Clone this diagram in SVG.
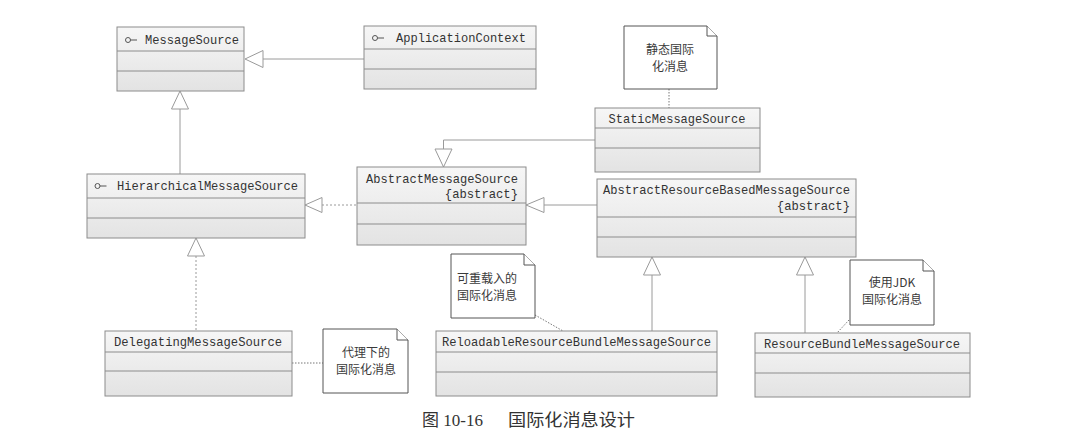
<svg xmlns="http://www.w3.org/2000/svg" width="1065" height="439" viewBox="0 0 1065 439">
<style>
.box{fill:url(#g);stroke:#8c8c8c;stroke-width:1}
.div{stroke:#8c8c8c;stroke-width:1}
.cls{font-family:"Liberation Mono","DejaVu Sans Mono",monospace;font-size:12.2px;fill:#333}
.note{fill:#fff;stroke:#555;stroke-width:1}
.nt{font-family:"Noto Sans CJK SC","Noto Sans",sans-serif;font-size:12px;fill:#3a3a3a}
.ln{fill:none;stroke:#9a9a9a;stroke-width:1}
.dl{fill:none;stroke:#9a9a9a;stroke-width:1;stroke-dasharray:2,2}
.nl{fill:none;stroke:#777;stroke-width:1;stroke-dasharray:1.5,1.5}
.tri{fill:#fff;stroke:#9a9a9a;stroke-width:1}
.ic{fill:none;stroke:#555;stroke-width:1}
.cap{font-family:"Liberation Serif","Noto Sans CJK SC",serif;font-size:17px;fill:#333}
</style>
<defs>
<linearGradient id="g" x1="0" y1="0" x2="0" y2="1">
<stop offset="0" stop-color="#f6f6f6"/>
<stop offset="1" stop-color="#e3e3e3"/>
</linearGradient>
</defs>
<rect width="1065" height="439" fill="#fff"/>

<g id="connectors">
<line class="ln" x1="263" y1="59" x2="364" y2="59"/>
<polygon class="tri" points="245,59 263,50.5 263,67.5"/>
<line class="ln" x1="180" y1="109" x2="180" y2="174"/>
<polygon class="tri" points="180,91 171.5,109 188.5,109"/>
<line class="dl" x1="322" y1="205" x2="357" y2="205"/>
<polygon class="tri" points="305,205 322,197.5 322,212.5"/>
<line class="dl" x1="196" y1="256" x2="196" y2="331"/>
<polygon class="tri" points="196,238 187.5,256 204.5,256"/>
<polyline class="ln" points="595,140 443.5,140 443.5,149"/>
<polygon class="tri" points="443.5,167 435,149 452,149"/>
<line class="ln" x1="544" y1="205" x2="597" y2="205"/>
<polygon class="tri" points="526,205 544,197.5 544,212.5"/>
<line class="ln" x1="652" y1="275" x2="652" y2="331"/>
<polygon class="tri" points="652,257 643.5,275 660.5,275"/>
<line class="ln" x1="805" y1="275" x2="805" y2="333"/>
<polygon class="tri" points="805,257 796.5,275 813.5,275"/>
<line class="nl" x1="669" y1="89" x2="669" y2="108"/>
<line class="nl" x1="292" y1="363" x2="323" y2="363"/>
<line class="nl" x1="535" y1="315" x2="563" y2="331"/>
<line class="nl" x1="849" y1="320" x2="837" y2="333"/>
</g>

<g id="MessageSource">
<rect class="box" x="117" y="27" width="127" height="64"/>
<line class="div" x1="117" y1="51" x2="244" y2="51"/>
<line class="div" x1="117" y1="71" x2="244" y2="71"/>
<circle class="ic" cx="128" cy="40" r="2.5"/>
<line class="ic" x1="130.5" y1="40" x2="137" y2="40"/>
<text class="cls" x="145" y="43.5" textLength="94" lengthAdjust="spacingAndGlyphs">MessageSource</text>
</g>

<g id="ApplicationContext">
<rect class="box" x="364" y="26" width="172" height="63"/>
<line class="div" x1="364" y1="49" x2="536" y2="49"/>
<line class="div" x1="364" y1="69" x2="536" y2="69"/>
<circle class="ic" cx="375" cy="38" r="2.5"/>
<line class="ic" x1="377.5" y1="38" x2="384" y2="38"/>
<text class="cls" x="396" y="42" textLength="130" lengthAdjust="spacingAndGlyphs">ApplicationContext</text>
</g>

<g id="HierarchicalMessageSource">
<rect class="box" x="87" y="174" width="218" height="64"/>
<line class="div" x1="87" y1="198" x2="305" y2="198"/>
<line class="div" x1="87" y1="218" x2="305" y2="218"/>
<circle class="ic" cx="97.5" cy="186" r="2.5"/>
<line class="ic" x1="100" y1="186" x2="106.5" y2="186"/>
<text class="cls" x="117" y="189.5" textLength="181" lengthAdjust="spacingAndGlyphs">HierarchicalMessageSource</text>
</g>

<g id="AbstractMessageSource">
<rect class="box" x="357" y="167" width="169" height="78"/>
<line class="div" x1="357" y1="203" x2="526" y2="203"/>
<line class="div" x1="357" y1="224" x2="526" y2="224"/>
<text class="cls" x="366" y="182.5" textLength="152" lengthAdjust="spacingAndGlyphs">AbstractMessageSource</text>
<text class="cls" x="518" y="197.5" text-anchor="end">{abstract}</text>
</g>

<g id="StaticMessageSource">
<rect class="box" x="595" y="108" width="165" height="64"/>
<line class="div" x1="595" y1="128" x2="760" y2="128"/>
<line class="div" x1="595" y1="148" x2="760" y2="148"/>
<text class="cls" x="608.5" y="122.5" textLength="137" lengthAdjust="spacingAndGlyphs">StaticMessageSource</text>
</g>

<g id="AbstractResourceBasedMessageSource">
<rect class="box" x="597" y="179" width="259" height="78"/>
<line class="div" x1="597" y1="217" x2="856" y2="217"/>
<line class="div" x1="597" y1="237" x2="856" y2="237"/>
<text class="cls" x="603" y="194" textLength="247" lengthAdjust="spacingAndGlyphs">AbstractResourceBasedMessageSource</text>
<text class="cls" x="850" y="210" text-anchor="end">{abstract}</text>
</g>

<g id="DelegatingMessageSource">
<rect class="box" x="105" y="331" width="187" height="65"/>
<line class="div" x1="105" y1="352" x2="292" y2="352"/>
<line class="div" x1="105" y1="371" x2="292" y2="371"/>
<text class="cls" x="114" y="346" textLength="168" lengthAdjust="spacingAndGlyphs">DelegatingMessageSource</text>
</g>

<g id="ReloadableResourceBundleMessageSource">
<rect class="box" x="436" y="331" width="281" height="65"/>
<line class="div" x1="436" y1="352" x2="717" y2="352"/>
<line class="div" x1="436" y1="372" x2="717" y2="372"/>
<text class="cls" x="442" y="346" textLength="269" lengthAdjust="spacingAndGlyphs">ReloadableResourceBundleMessageSource</text>
</g>

<g id="ResourceBundleMessageSource">
<rect class="box" x="755" y="333" width="215" height="64"/>
<line class="div" x1="755" y1="353" x2="970" y2="353"/>
<line class="div" x1="755" y1="373" x2="970" y2="373"/>
<text class="cls" x="764" y="347.5" textLength="196" lengthAdjust="spacingAndGlyphs">ResourceBundleMessageSource</text>
</g>

<g id="note-static">
<path class="note" d="M624,26 H707 L717,36 V89 H624 Z"/>
<path class="note" d="M707,26 V36 H717"/>
<text class="nt" x="670" y="53.5" text-anchor="middle">静态国际</text>
<text class="nt" x="670" y="71" text-anchor="middle">化消息</text>
</g>

<g id="note-delegating">
<path class="note" d="M323,329 H397 L408,340 V393 H323 Z"/>
<path class="note" d="M397,329 V340 H408"/>
<text class="nt" x="366" y="356.5" text-anchor="middle">代理下的</text>
<text class="nt" x="366" y="374" text-anchor="middle">国际化消息</text>
</g>

<g id="note-reloadable">
<path class="note" d="M451,254 H524 L535,265 V318 H451 Z"/>
<path class="note" d="M524,254 V265 H535"/>
<text class="nt" x="457" y="282.5">可重载入的</text>
<text class="nt" x="457" y="300">国际化消息</text>
</g>

<g id="note-jdk">
<path class="note" d="M850,260 H923 L934,271 V325 H850 Z"/>
<path class="note" d="M923,260 V271 H934"/>
<text class="nt" x="892" y="286.5" text-anchor="middle">使用JDK</text>
<text class="nt" x="892" y="304" text-anchor="middle">国际化消息</text>
</g>

<g id="caption">
<text class="cap" x="422" y="426">图 10-16</text>
<text class="cap" x="508" y="426" textLength="127" lengthAdjust="spacingAndGlyphs">国际化消息设计</text>
</g>
</svg>
